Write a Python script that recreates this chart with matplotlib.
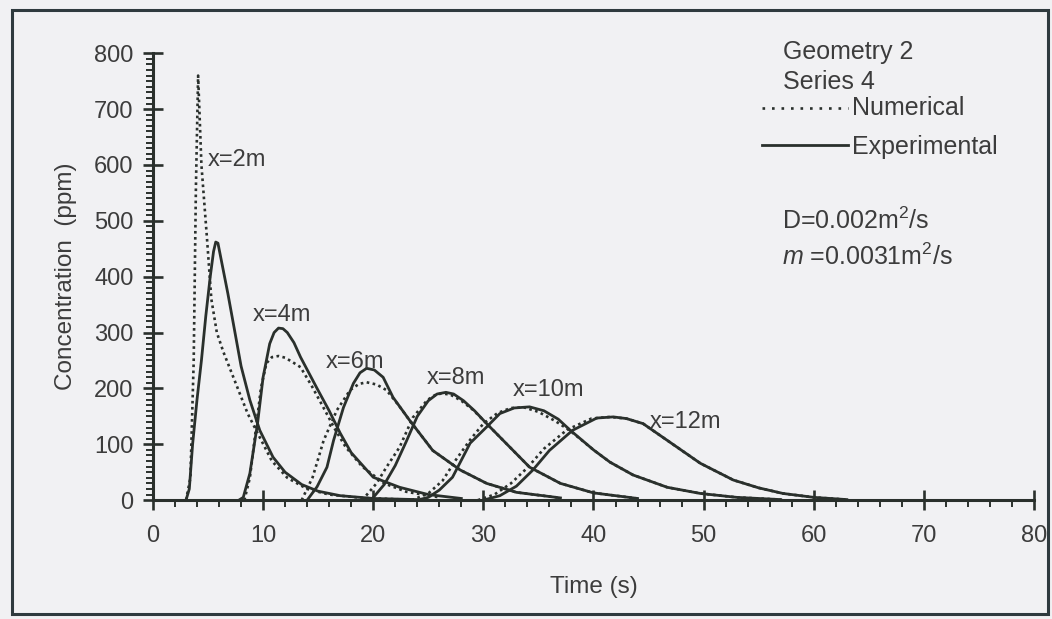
import matplotlib
matplotlib.use("Agg")
import matplotlib.pyplot as plt
from matplotlib.lines import Line2D
from matplotlib.patches import Rectangle
from matplotlib.ticker import MultipleLocator

# Values (time in s, concentration in ppm)
t_num_2 = [3.0, 3.4, 3.7, 3.9, 4.1, 4.4, 4.9, 5.3, 5.8, 6.4, 7.0, 7.8, 8.6, 9.5, 10.8, 12.2, 14.0, 16.0, 19.0, 23.0]
c_num_2 = [0, 40, 250, 560, 760, 600, 470, 360, 300, 265, 235, 195, 155, 120, 70, 40, 20, 10, 4, 1]
t_exp_2 = [3.0, 3.3, 3.6, 4.0, 4.4, 4.8, 5.2, 5.5, 5.7, 5.9, 6.2, 6.8, 7.3, 8.0, 8.8, 9.7, 10.9, 12.0, 13.5, 15.0, 17.0, 20.0, 24.0]
c_exp_2 = [0, 20, 100, 180, 250, 330, 400, 445, 462, 460, 430, 370, 316, 240, 179, 125, 77, 50, 28, 16, 8, 3, 1]

t_num_4 = [8.3, 8.8, 9.3, 9.8, 10.3, 10.8, 11.4, 12.0, 12.6, 13.4, 14.4, 15.5, 16.5, 17.5, 19.0, 21.0, 23.0, 26.0]
c_num_4 = [0, 40, 120, 200, 245, 256, 258, 255, 248, 238, 205, 165, 128, 95, 60, 30, 15, 5]
t_exp_4 = [7.8, 8.2, 8.8, 9.5, 10.0, 10.6, 11.0, 11.4, 11.8, 12.2, 12.8, 13.4, 14.9, 16.0, 17.0, 18.0, 20.0, 22.4, 25.0, 28.0]
c_exp_4 = [0, 5, 48, 138, 220, 280, 300, 308, 307, 300, 282, 256, 200, 160, 120, 85, 41, 23, 10, 3]

t_num_6 = [13.5, 14.5, 15.5, 16.7, 17.9, 18.7, 19.4, 20.3, 21.2, 22.3, 23.3, 25.4, 27.9, 30.3, 33.0, 37.0]
c_num_6 = [0, 41, 107, 161, 197, 208, 211, 207, 197, 170, 143, 89, 54, 30, 14, 4]
t_exp_6 = [14.0, 14.9, 15.8, 16.4, 17.3, 18.2, 18.8, 19.4, 20.1, 20.9, 21.8, 23.3, 25.4, 27.9, 30.3, 33.0, 37.0]
c_exp_6 = [0, 24, 59, 107, 166, 209, 228, 236, 233, 220, 184, 143, 89, 54, 30, 14, 4]

t_num_8 = [19.0, 20.3, 21.2, 22.4, 23.6, 24.9, 25.6, 26.2, 27.0, 28.0, 29.1, 30.3, 32.4, 34.2, 37.0, 40.0, 44.0]
c_num_8 = [0, 30, 59, 95, 148, 179, 188, 191, 189, 178, 161, 137, 95, 59, 30, 13, 3]
t_exp_8 = [19.8, 21.0, 22.0, 23.0, 24.0, 25.0, 25.8, 26.6, 27.3, 28.2, 29.2, 30.3, 32.4, 34.2, 37.0, 40.0, 44.0]
c_exp_8 = [0, 28, 62, 105, 150, 178, 190, 193, 190, 178, 160, 137, 95, 59, 30, 13, 3]

t_num_10 = [23.5, 25.0, 26.3, 27.5, 28.8, 30.0, 31.3, 32.5, 33.7, 35.0, 36.5, 37.9, 40.0, 41.5, 43.6, 46.7, 49.7, 53.0, 57.0]
c_num_10 = [0, 12, 35, 72, 108, 137, 156, 165, 166, 158, 142, 124, 90, 68, 45, 23, 12, 5, 1]
t_exp_10 = [24.0, 25.0, 26.0, 27.2, 28.8, 30.3, 31.5, 32.8, 34.2, 35.5, 36.8, 37.9, 40.0, 41.5, 43.6, 46.7, 49.7, 53.0, 57.0]
c_exp_10 = [0, 5, 18, 41, 102, 131, 155, 165, 167, 160, 145, 125, 90, 68, 45, 23, 12, 5, 1]

t_num_12 = [29.5, 31.0, 32.5, 34.0, 35.5, 37.6, 39.8, 41.5, 43.0, 44.5, 46.7, 49.7, 52.7, 55.0, 57.2, 60.0, 63.0]
c_num_12 = [0, 10, 30, 58, 92, 126, 146, 149, 146, 137, 107, 66, 36, 22, 12, 5, 1]
t_exp_12 = [30.0, 31.5, 33.0, 34.5, 36.0, 38.1, 40.3, 41.8, 43.0, 44.5, 46.7, 49.7, 52.7, 55.0, 57.2, 60.0, 63.0]
c_exp_12 = [0, 8, 25, 54, 89, 125, 147, 149, 146, 137, 107, 66, 36, 22, 12, 5, 1]

numerical = [(t_num_2, c_num_2), (t_num_4, c_num_4), (t_num_6, c_num_6),
             (t_num_8, c_num_8), (t_num_10, c_num_10), (t_num_12, c_num_12)]
experimental = [(t_exp_2, c_exp_2), (t_exp_4, c_exp_4), (t_exp_6, c_exp_6),
                (t_exp_8, c_exp_8), (t_exp_10, c_exp_10), (t_exp_12, c_exp_12)]

curve_labels = ["x=2m", "x=4m", "x=6m", "x=8m", "x=10m", "x=12m"]
label_t = [5.0, 9.1, 15.7, 24.9, 32.7, 45.1]
label_c = [608, 331, 247, 218, 197, 140]

INK = "#2a302c"
TEXT = "#3c3c3c"
PAPER = "#f1f1f3"

plt.rcParams["font.family"] = ["Liberation Sans", "DejaVu Sans"]
plt.rcParams["mathtext.fontset"] = "custom"
plt.rcParams["mathtext.rm"] = "Liberation Sans"
plt.rcParams["mathtext.it"] = "Liberation Sans:italic"

fig = plt.figure(figsize=(10.52, 6.19), dpi=100, facecolor=PAPER)
ax = fig.add_axes([0.1454, 0.192, 0.8375, 0.722])
ax.set_facecolor(PAPER)

for t, c in numerical:
    ax.plot(t, c, color=INK, linestyle=(0, (1, 1.3)), linewidth=1.9)
for t, c in experimental:
    ax.plot(t, c, color=INK, linestyle="-", linewidth=2.0)

for label, t, c in zip(curve_labels, label_t, label_c):
    ax.text(t, c, label, fontsize=17, color=TEXT, va="center", ha="left")

ax.set_xlim(0, 80)
ax.set_ylim(0, 800)
ax.xaxis.set_major_locator(MultipleLocator(10))
ax.xaxis.set_minor_locator(MultipleLocator(2))
ax.yaxis.set_major_locator(MultipleLocator(100))
ax.yaxis.set_minor_locator(MultipleLocator(10))
ax.tick_params(which="major", direction="inout", length=14, width=1.9, color=INK,
               labelsize=17, labelcolor=TEXT)
ax.tick_params(axis="y", which="major", pad=7)
ax.tick_params(axis="x", which="major", pad=11)
ax.tick_params(which="minor", direction="out", length=5, width=1.4, color=INK)

for side in ["top", "right"]:
    ax.spines[side].set_visible(False)
for side in ["left", "bottom"]:
    ax.spines[side].set_color(INK)
    ax.spines[side].set_linewidth(2.2)

ax.set_xlabel("Time (s)", fontsize=17.5, color=TEXT, labelpad=21)
ax.set_ylabel("Concentration  (ppm)", fontsize=17.5, color=TEXT, labelpad=12)

# legend block and parameters, upper right
ax.text(0.715, 1.002, "Geometry 2", transform=ax.transAxes, fontsize=18, color=TEXT, va="center")
ax.text(0.715, 0.935, "Series 4", transform=ax.transAxes, fontsize=18, color=TEXT, va="center")
ax.add_line(Line2D([0.691, 0.789], [0.877, 0.877], transform=ax.transAxes, color=INK,
                   linestyle=(0, (1, 2.6)), linewidth=1.9))
ax.text(0.793, 0.877, "Numerical", transform=ax.transAxes, fontsize=18, color=TEXT, va="center")
ax.add_line(Line2D([0.691, 0.789], [0.794, 0.794], transform=ax.transAxes, color=INK,
                   linestyle="-", linewidth=2.0))
ax.text(0.793, 0.790, "Experimental", transform=ax.transAxes, fontsize=18, color=TEXT, va="center")
ax.text(0.714, 0.626, "D=0.002m$^2$/s", transform=ax.transAxes, fontsize=18, color=TEXT, va="center")
ax.text(0.714, 0.544, "$\\it{m}$ =0.0031m$^2$/s", transform=ax.transAxes, fontsize=18, color=TEXT, va="center")

# scan border around the whole figure
fig.patches.append(Rectangle((0.011, 0.008), 0.985, 0.976, transform=fig.transFigure,
                             fill=False, edgecolor="#2f3a3e", linewidth=2.2))

fig.savefig("out.png", dpi=100, facecolor=PAPER)
